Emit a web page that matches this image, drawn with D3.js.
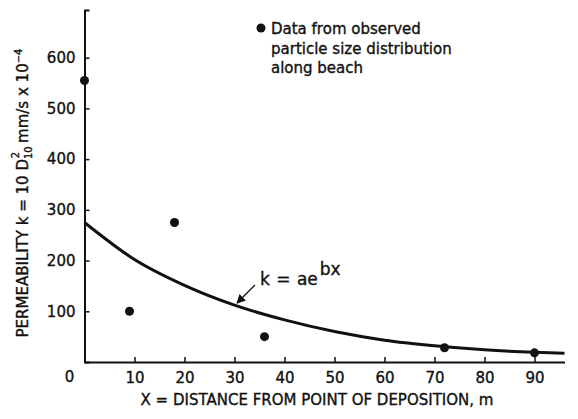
<!DOCTYPE html>
<html>
<head>
<meta charset="utf-8">
<script src="https://cdn.jsdelivr.net/npm/d3@7"></script>
<style>
  html, body { margin: 0; padding: 0; background: #fff; }
  svg { display: block; }
  text { font-family: "DejaVu Sans", sans-serif; fill: #111; stroke: #111; stroke-width: 0.35px; }
</style>
</head>
<body>
<svg id="chart" width="578" height="419"></svg>
<script>
// Observed data points (distance m, permeability)
const obsX = [0, 9, 18, 36, 72, 90];
const obsK = [555, 100, 275, 50, 28, 18];
// Fitted curve k = a e^{bx}
const fitX = [0, 10, 20, 30, 40, 50, 60, 70, 80, 90, 96];
const fitK = [275, 202, 151, 112, 83, 60, 43, 32, 24, 19, 17];
// Ticks
const xTicks = [10, 20, 30, 40, 50, 60, 70, 80, 90];
const yTicks = [100, 200, 300, 400, 500, 600];
const xMax = 96;
const yMax = 694;

const svg = d3.select("#chart");
const x = d3.scaleLinear().domain([0, xMax]).range([84.5, 564.5]);
const y = d3.scaleLinear().domain([0, yMax]).range([362, 10]);

// Y axis
const yAxis = d3.axisLeft(y).tickValues(yTicks).tickSizeInner(-5).tickSizeOuter(-5).tickPadding(9);
const gy = svg.append("g").attr("transform", `translate(${x(0)},0)`).call(yAxis);
gy.select(".domain").attr("stroke", "#111").attr("stroke-width", 2);
gy.selectAll(".tick line").attr("stroke", "#111").attr("stroke-width", 1.5);
gy.selectAll(".tick text").style("font-size", "15px").attr("fill", "#111");

// X axis
const xAxis = d3.axisBottom(x).tickValues(xTicks).tickSizeInner(-5).tickSizeOuter(0).tickPadding(10);
const gx = svg.append("g").attr("transform", `translate(0,${y(0)})`).call(xAxis);
gx.select(".domain").attr("stroke", "#111").attr("stroke-width", 2);
gx.selectAll(".tick line").attr("stroke", "#111").attr("stroke-width", 1.5);
gx.selectAll(".tick text").style("font-size", "15px").attr("fill", "#111");

// Origin "0" label
svg.append("text").attr("x", x(0) - 15).attr("y", y(0) + 20)
  .attr("text-anchor", "middle").style("font-size", "15px").text("0");

// Fitted curve
const line = d3.line().x((d, i) => x(fitX[i])).y(d => y(d)).curve(d3.curveMonotoneX);
svg.append("path").datum(fitK).attr("d", line)
  .attr("fill", "none").attr("stroke", "#111").attr("stroke-width", 3);

// Observed points
svg.append("g").selectAll("circle").data(obsK).join("circle")
  .attr("cx", (d, i) => x(obsX[i])).attr("cy", d => y(d)).attr("r", 4.5).attr("fill", "#111");

// Legend
svg.append("circle").attr("cx", 261).attr("cy", 28).attr("r", 4.5).attr("fill", "#111");
const leg = svg.append("text").attr("x", 271).attr("y", 34).style("font-size", "15px");
["Data from observed", "particle size distribution", "along beach"].forEach((t, i) => {
  leg.append("tspan").attr("x", 271).attr("dy", i === 0 ? 0 : 19.5).text(t);
});

// Curve annotation
svg.append("defs").append("marker").attr("id", "ah").attr("viewBox", "0 0 10 10")
  .attr("refX", 9).attr("refY", 5).attr("markerWidth", 9).attr("markerHeight", 9)
  .attr("markerUnits", "userSpaceOnUse").attr("orient", "auto")
  .append("path").attr("d", "M0,0 L10,5 L0,10 z").attr("fill", "#111");
svg.append("line").attr("x1", 255).attr("y1", 285).attr("x2", 237).attr("y2", 303)
  .attr("stroke", "#111").attr("stroke-width", 1.2).attr("marker-end", "url(#ah)");
const ann = svg.append("text").attr("x", 260).attr("y", 285)
  .style("font-size", "17px").style("word-spacing", "1px");
ann.append("tspan").text("k = ae");
ann.append("tspan").attr("dy", -10).attr("dx", 2).text("bx");

// X axis title
svg.append("text").attr("x", 317).attr("y", 405).attr("text-anchor", "middle")
  .style("font-size", "15px").text("X = DISTANCE FROM POINT OF DEPOSITION, m");

// Y axis title
const yt = svg.append("text").attr("transform", "translate(28,193) rotate(-90)")
  .attr("text-anchor", "middle").style("font-size", "15px");
yt.append("tspan").text("PERMEABILITY k = 10 D");
yt.append("tspan").attr("dy", 4).style("font-size", "10px").text("10");
yt.append("tspan").attr("dx", -12).attr("dy", -13).style("font-size", "10px").text("2");
yt.append("tspan").attr("dy", 9).attr("dx", 9).text("mm/s x 10");
yt.append("tspan").attr("dy", -6).style("font-size", "10px").text("−4");
</script>
</body>
</html>
